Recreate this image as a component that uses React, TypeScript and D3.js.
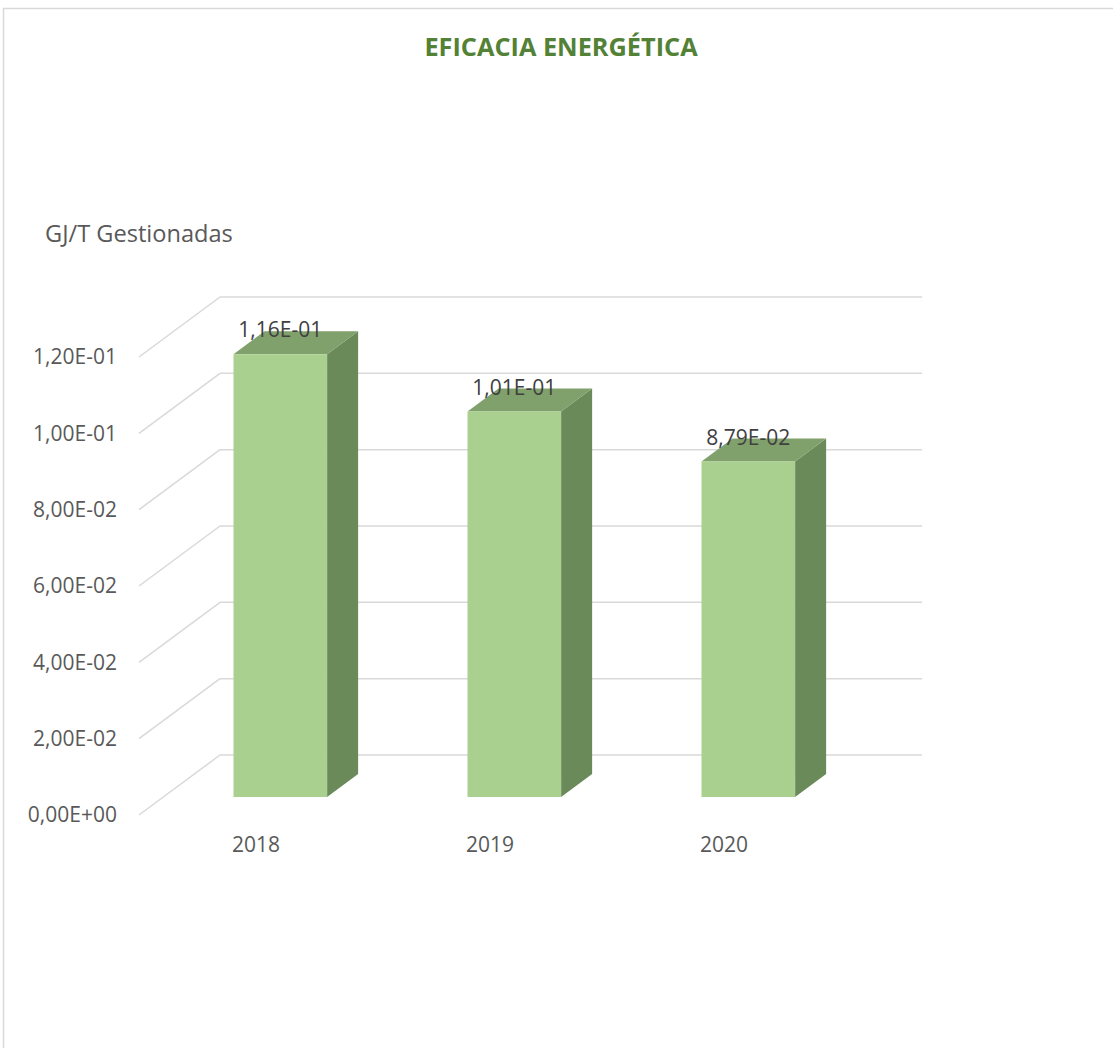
import React from "react";
import * as d3 from "d3";

const years: string[] = ["2018", "2019", "2020"];
const values: number[] = [0.116, 0.101, 0.0879];
const valueLabels: string[] = ["1,16E-01", "1,01E-01", "8,79E-02"];
const yTicks: number[] = [0, 0.02, 0.04, 0.06, 0.08, 0.1, 0.12];
const yTickLabels: string[] = ["0,00E+00", "2,00E-02", "4,00E-02", "6,00E-02", "8,00E-02", "1,00E-01", "1,20E-01"];

const W = 1113;
const H = 1048;
// depth of the 3d box
const DX = 81;
const DY = -60;
// bars sit from 0.3 to 0.68 of the depth
const BAR_D0 = 0.3;
const BAR_D1 = 0.683;
const FONT = "'Open Sans', 'Noto Sans', sans-serif";
const LABEL_SIZE = 21;

const App = () => {
  const y = d3.scaleLinear().domain([0, 0.12]).range([815, 357]);
  const x = d3.scaleBand<string>().domain(years).range([139, 841]).padding(0);
  const barW = x.bandwidth() * 0.4;

  const off = (d: number) => [DX * d, DY * d];

  return (
    <svg
      width={W}
      height={H}
      style={{ position: "absolute", left: 0, top: 0, background: "#fff" }}
      fontFamily={FONT}
    >
      <rect x={3.5} y={8.5} width={W + 20} height={H + 20} fill="#fff" stroke="#d9d9d9" strokeWidth={1.5} />

      <text x={561} y={56} textAnchor="middle" fontSize={25.3} fontWeight="bold" fill="#538135">
        EFICACIA ENERGÉTICA
      </text>

      <text x={45} y={242} fontSize={23.6} fill="#595959">
        GJ/T Gestionadas
      </text>

      {/* gridlines: side wall diagonal + back wall */}
      {yTicks.map((t, i) => {
        const x0 = x.range()[0];
        const x1 = x.range()[1];
        const yy = y(t);
        return (
          <g key={"g" + i}>
            <line x1={x0} y1={yy} x2={x0 + DX} y2={yy + DY} stroke="#d9d9d9" strokeWidth={1.5} />
            <line x1={x0 + DX} y1={yy + DY} x2={x1 + DX} y2={yy + DY} stroke="#d9d9d9" strokeWidth={1.5} />
            <text
              x={117}
              y={yy}
              dy="0.35em"
              textAnchor="end"
              fontSize={LABEL_SIZE}
              fill="#595959"
            >
              {yTickLabels[i]}
            </text>
          </g>
        );
      })}

      {/* bars */}
      {years.map((yr, i) => {
        const v = values[i];
        const c = (x(yr) ?? 0) + x.bandwidth() / 2;
        const [ox0, oy0] = off(BAR_D0);
        const [ox1, oy1] = off(BAR_D1);
        const left = c - barW / 2 + ox0;
        const right = c + barW / 2 + ox0;
        const top = y(v) + oy0;
        const bottom = y(0) + oy0;
        const sdx = ox1 - ox0;
        const sdy = oy1 - oy0;
        const side = `M${right},${top}L${right + sdx},${top + sdy}L${right + sdx},${bottom + sdy}L${right},${bottom}Z`;
        const lid = `M${left},${top}L${left + sdx},${top + sdy}L${right + sdx},${top + sdy}L${right},${top}Z`;
        return (
          <g key={yr}>
            <path d={side} fill="#6b8a5a" />
            <path d={lid} fill="#80a16b" />
            <rect x={left} y={top} width={barW} height={bottom - top} fill="#a9d08e" />
            <text x={c + ox0} y={top - 17} textAnchor="middle" fontSize={LABEL_SIZE} fill="#404040">
              {valueLabels[i]}
            </text>
            <text x={c} y={852} textAnchor="middle" fontSize={LABEL_SIZE} fill="#595959">
              {yr}
            </text>
          </g>
        );
      })}
    </svg>
  );
};

export default App;
